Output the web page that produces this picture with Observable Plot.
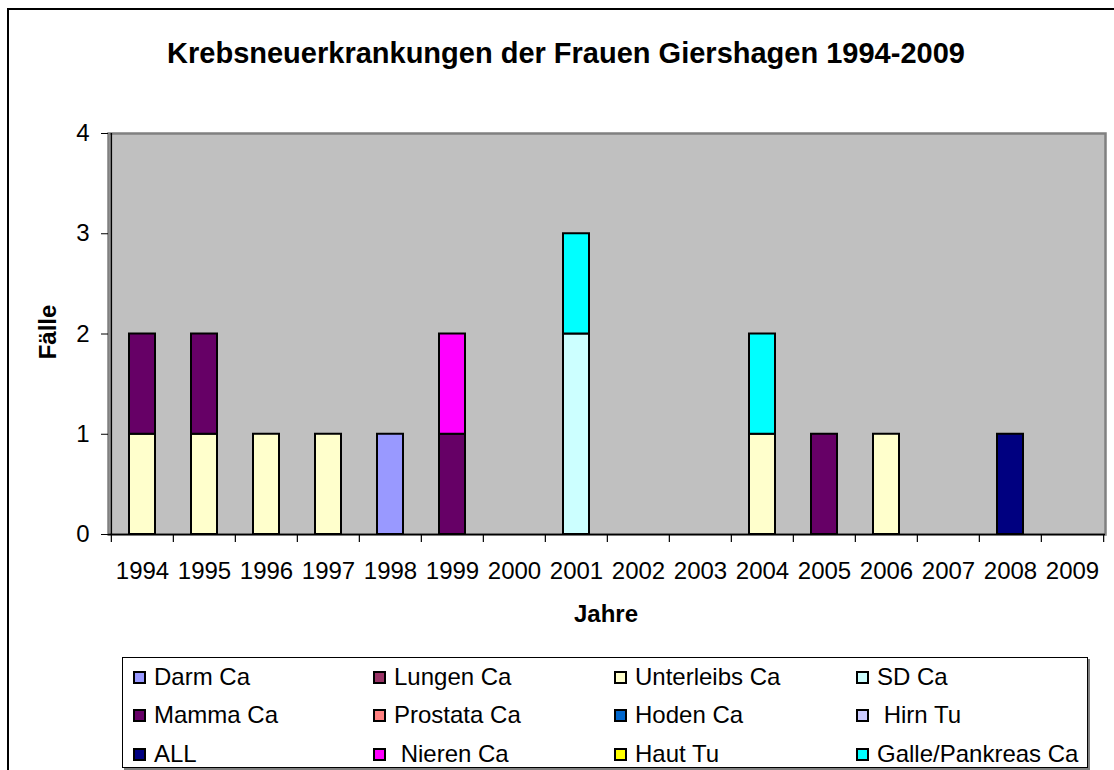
<!DOCTYPE html>
<html>
<head>
<meta charset="utf-8">
<script src="https://cdn.jsdelivr.net/npm/d3@7"></script>
<script src="https://cdn.jsdelivr.net/npm/@observablehq/plot@0.6"></script>
<style>
  html, body { margin: 0; padding: 0; background: #fff; overflow: hidden; }
  body { width: 1114px; height: 770px; position: relative; font-family: "Liberation Sans", Arial, sans-serif; }
  #outer { position: absolute; left: 7px; top: 8px; width: 1130px; height: 800px; border: 2px solid #000; box-sizing: border-box; }
  #chart { position: absolute; left: 0; top: 0; }
  .title { position: absolute; left: 0; width: 1132px; top: 37px; text-align: center; font-weight: bold; font-size: 29px; color: #000; }
  .ylab { position: absolute; left: 48px; top: 332px; transform: translate(-50%, -50%) rotate(-90deg); font-weight: bold; font-size: 24px; white-space: nowrap; }
  .xlab { position: absolute; left: 606px; top: 614px; transform: translate(-50%, -50%); font-weight: bold; font-size: 24px; }
  #legend { position: absolute; left: 122px; top: 657px; width: 966px; height: 111px; border: 1px solid #000; box-sizing: border-box; background: #fff; box-shadow: 2px 2px 0 #808080; }
  .item { position: absolute; display: flex; align-items: center; font-size: 24px; white-space: pre; transform: translateY(-50%); }
  .sw { width: 9px; height: 9px; border: 2px solid #000; margin-right: 8px; }
</style>
</head>
<body>
<div id="outer"></div>
<div id="chart"></div>
<div class="title">Krebsneuerkrankungen der Frauen Giershagen 1994-2009</div>
<div class="ylab">Fälle</div>
<div class="xlab">Jahre</div>
<div id="legend"></div>
<script>
const years = ["1994","1995","1996","1997","1998","1999","2000","2001","2002","2003","2004","2005","2006","2007","2008","2009"];
const seriesNames = ["Darm Ca","Lungen Ca","Unterleibs Ca","SD Ca","Mamma Ca","Prostata Ca","Hoden Ca"," Hirn Tu","ALL"," Nieren Ca","Haut Tu","Galle/Pankreas Ca"];
const seriesColors = ["#9999FF","#993366","#FFFFCC","#CCFFFF","#660066","#FF8080","#0066CC","#CCCCFF","#000080","#FF00FF","#FFFF00","#00FFFF"];
const yTicks = [0, 1, 2, 3, 4];

//                  94 95 96 97 98 99 00 01 02 03 04 05 06 07 08 09
const darm       = [0, 0, 0, 0, 1, 0, 0, 0, 0, 0, 0, 0, 0, 0, 0, 0];
const lungen     = [0, 0, 0, 0, 0, 0, 0, 0, 0, 0, 0, 0, 0, 0, 0, 0];
const unterleibs = [1, 1, 1, 1, 0, 0, 0, 0, 0, 0, 1, 0, 1, 0, 0, 0];
const sd         = [0, 0, 0, 0, 0, 0, 0, 2, 0, 0, 0, 0, 0, 0, 0, 0];
const mamma      = [1, 1, 0, 0, 0, 1, 0, 0, 0, 0, 0, 1, 0, 0, 0, 0];
const prostata   = [0, 0, 0, 0, 0, 0, 0, 0, 0, 0, 0, 0, 0, 0, 0, 0];
const hoden      = [0, 0, 0, 0, 0, 0, 0, 0, 0, 0, 0, 0, 0, 0, 0, 0];
const hirn       = [0, 0, 0, 0, 0, 0, 0, 0, 0, 0, 0, 0, 0, 0, 0, 0];
const all        = [0, 0, 0, 0, 0, 0, 0, 0, 0, 0, 0, 0, 0, 0, 1, 0];
const nieren     = [0, 0, 0, 0, 0, 1, 0, 0, 0, 0, 0, 0, 0, 0, 0, 0];
const haut       = [0, 0, 0, 0, 0, 0, 0, 0, 0, 0, 0, 0, 0, 0, 0, 0];
const galle      = [0, 0, 0, 0, 0, 0, 0, 1, 0, 0, 1, 0, 0, 0, 0, 0];
const seriesValues = [darm, lungen, unterleibs, sd, mamma, prostata, hoden, hirn, all, nieren, haut, galle];

const data = [];
seriesNames.forEach((s, i) => {
  years.forEach((y, j) => {
    if (seriesValues[i][j] > 0) data.push({year: y, series: s, value: seriesValues[i][j], order: i});
  });
});

const W = 1114, H = 770, ML = 108, MR = 9, MT = 133, MB = 236;
const step = (W - ML - MR) / years.length;

const chart = Plot.plot({
  width: W, height: H,
  marginLeft: ML, marginRight: MR, marginTop: MT, marginBottom: MB,
  style: {fontFamily: "Liberation Sans, Arial, sans-serif", background: "transparent", color: "#000"},
  x: {type: "band", domain: years, padding: 0},
  y: {type: "linear", domain: [0, 4]},
  color: {domain: seriesNames, range: seriesColors},
  marks: [
    Plot.frame({fill: "#C0C0C0", stroke: "#808080", strokeWidth: 2.5}),
    Plot.barY(data, Plot.stackY({order: "order"}, {x: "year", y: "value", fill: "series", stroke: "#000", strokeWidth: 2, insetLeft: 18, insetRight: 18})),
    Plot.ruleX([years[0]], {x: d => d, y1: 0, y2: 4, dx: -step / 2, stroke: "#000", strokeWidth: 1.5}),
    Plot.ruleY([0], {stroke: "#000", strokeWidth: 1.5}),
    Plot.ruleX(years, {x: d => d, y1: 0, y2: -0.08, dx: -step / 2, stroke: "#000", strokeWidth: 1.2}),
    Plot.ruleX([years[years.length - 1]], {x: d => d, y1: 0, y2: -0.08, dx: step / 2, stroke: "#000", strokeWidth: 1.2}),
    Plot.axisX({tickSize: 0, tickPadding: 27, fontSize: 24, label: null}),
    Plot.axisY({ticks: yTicks, tickSize: 7, tickPadding: 12, fontSize: 24, label: null, tickFormat: d => String(d)})
  ]
});
document.getElementById("chart").appendChild(chart);

// legend (3 rows x 4 columns, row-wise)
const legend = document.getElementById("legend");
const colX = [10, 250, 491, 733];
const rowY = [19, 57, 96];
seriesNames.forEach((s, i) => {
  const r = Math.floor(i / 4), c = i % 4;
  const it = document.createElement("div");
  it.className = "item";
  it.style.left = colX[c] + "px";
  it.style.top = rowY[r] + "px";
  const sw = document.createElement("span");
  sw.className = "sw";
  sw.style.background = seriesColors[i];
  const t = document.createElement("span");
  t.textContent = s;
  it.appendChild(sw); it.appendChild(t);
  legend.appendChild(it);
});
</script>
</body>
</html>
